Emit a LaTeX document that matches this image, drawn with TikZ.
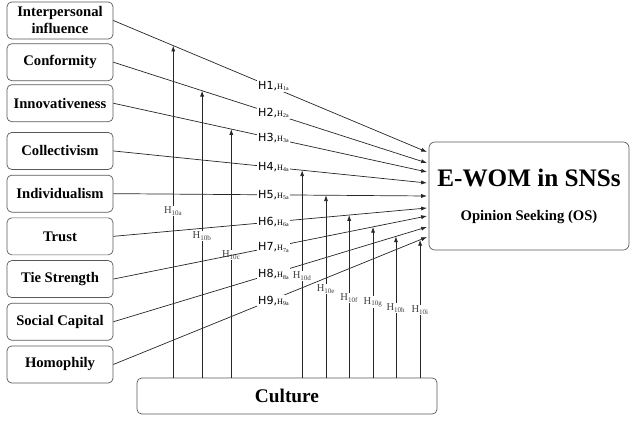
\documentclass[tikz,border=0pt]{standalone}
\usepackage{fontspec}
\setmainfont{Liberation Serif}
\setsansfont{DejaVu Sans}
\usetikzlibrary{positioning,arrows.meta,calc}

\begin{document}
\begin{tikzpicture}[
    x=0.03cm, y=-0.03cm,
    factor/.style={rectangle, draw=black!65, line width=0.6pt, rounded corners=4pt,
        minimum width=3.18cm, minimum height=1.11cm, inner ysep=2pt,
        align=center, font=\bfseries\fontsize{12.5}{14.5}\selectfont},
    outcome/.style={rectangle, draw=black!65, line width=0.6pt, rounded corners=5pt,
        minimum width=6cm, minimum height=3.24cm, align=center, font=\bfseries},
    moderator/.style={rectangle, draw=black!65, line width=0.6pt, rounded corners=4pt,
        minimum width=9cm, minimum height=1.08cm,
        font=\bfseries\fontsize{16.5}{18}\selectfont},
    arrow/.style={-{Latex[length=5pt,width=3.5pt]}, line width=0.6pt, draw=black!85},
    hlab/.style={fill=white, inner sep=1pt, font=\sffamily\fontsize{9.5}{10}\selectfont},
    mlab/.style={fill=white, inner sep=1pt, text=black!75, font=\fontsize{9}{10}\selectfont}
]
\useasboundingbox (0,0) rectangle (631,425);

% Antecedents
\node[factor] (inf) at (60,20.5) {Interpersonal\\influence};
\node[factor, below=0.12cm of inf] (conf) {Conformity};
\node[factor, below=0.1cm of conf] (inno) {Innovativeness};
\node[factor, below=0.3cm of inno] (coll) {Collectivism};
\node[factor, below=0.15cm of coll] (indi) {Individualism};
\node[factor, below=0.15cm of indi] (trust) {Trust};
\node[factor, below=0.15cm of trust] (tie) {Tie Strength};
\node[factor, below=0.15cm of tie] (soc) {Social Capital};
\node[factor, below=0.15cm of soc] (homo) {Homophily};

% Outcome and moderator
\node[outcome] (ewom) at (529,196) {{\fontsize{21.5}{24}\selectfont E-WOM in SNSs}\\[17pt]{\fontsize{12.5}{14}\selectfont Opinion Seeking (OS)}};
\node[moderator] (culture) at (287,396) {Culture};

% Arrow ends on the outcome box
\foreach \y [count=\i] in {152,163,172,183,196,208,216,227,237}
    \coordinate (e\i) at (427,\y);

% Moderating arrows
\foreach \src/\k/\f/\ly [count=\i] in {inf/a/0.191/211, conf/b/0.283/236, inno/c/0.376/255,
        coll/d/0.602/276, indi/e/0.678/289, trust/f/0.752/298, tie/g/0.828/302,
        soc/h/0.901/308, homo/i/0.978/310} {
    \coordinate (t\k) at ($(\src.east)!\f!(e\i)$);
    \coordinate (y\k) at (0,\ly);
    \draw[arrow] (culture.north -| t\k) -- (t\k);
    \node[mlab] at (t\k |- y\k) {H\textsubscript{10\k}};
}

% Hypotheses H1 to H9
\foreach \src [count=\i] in {inf,conf,inno,coll,indi,trust,tie,soc,homo}
    \draw[arrow] (\src.east) -- node[hlab, xshift=3pt] {H\i,{\rmfamily\fontsize{7}{7}\selectfont H\textsubscript{\i a}}} (e\i);

\end{tikzpicture}
\end{document}
